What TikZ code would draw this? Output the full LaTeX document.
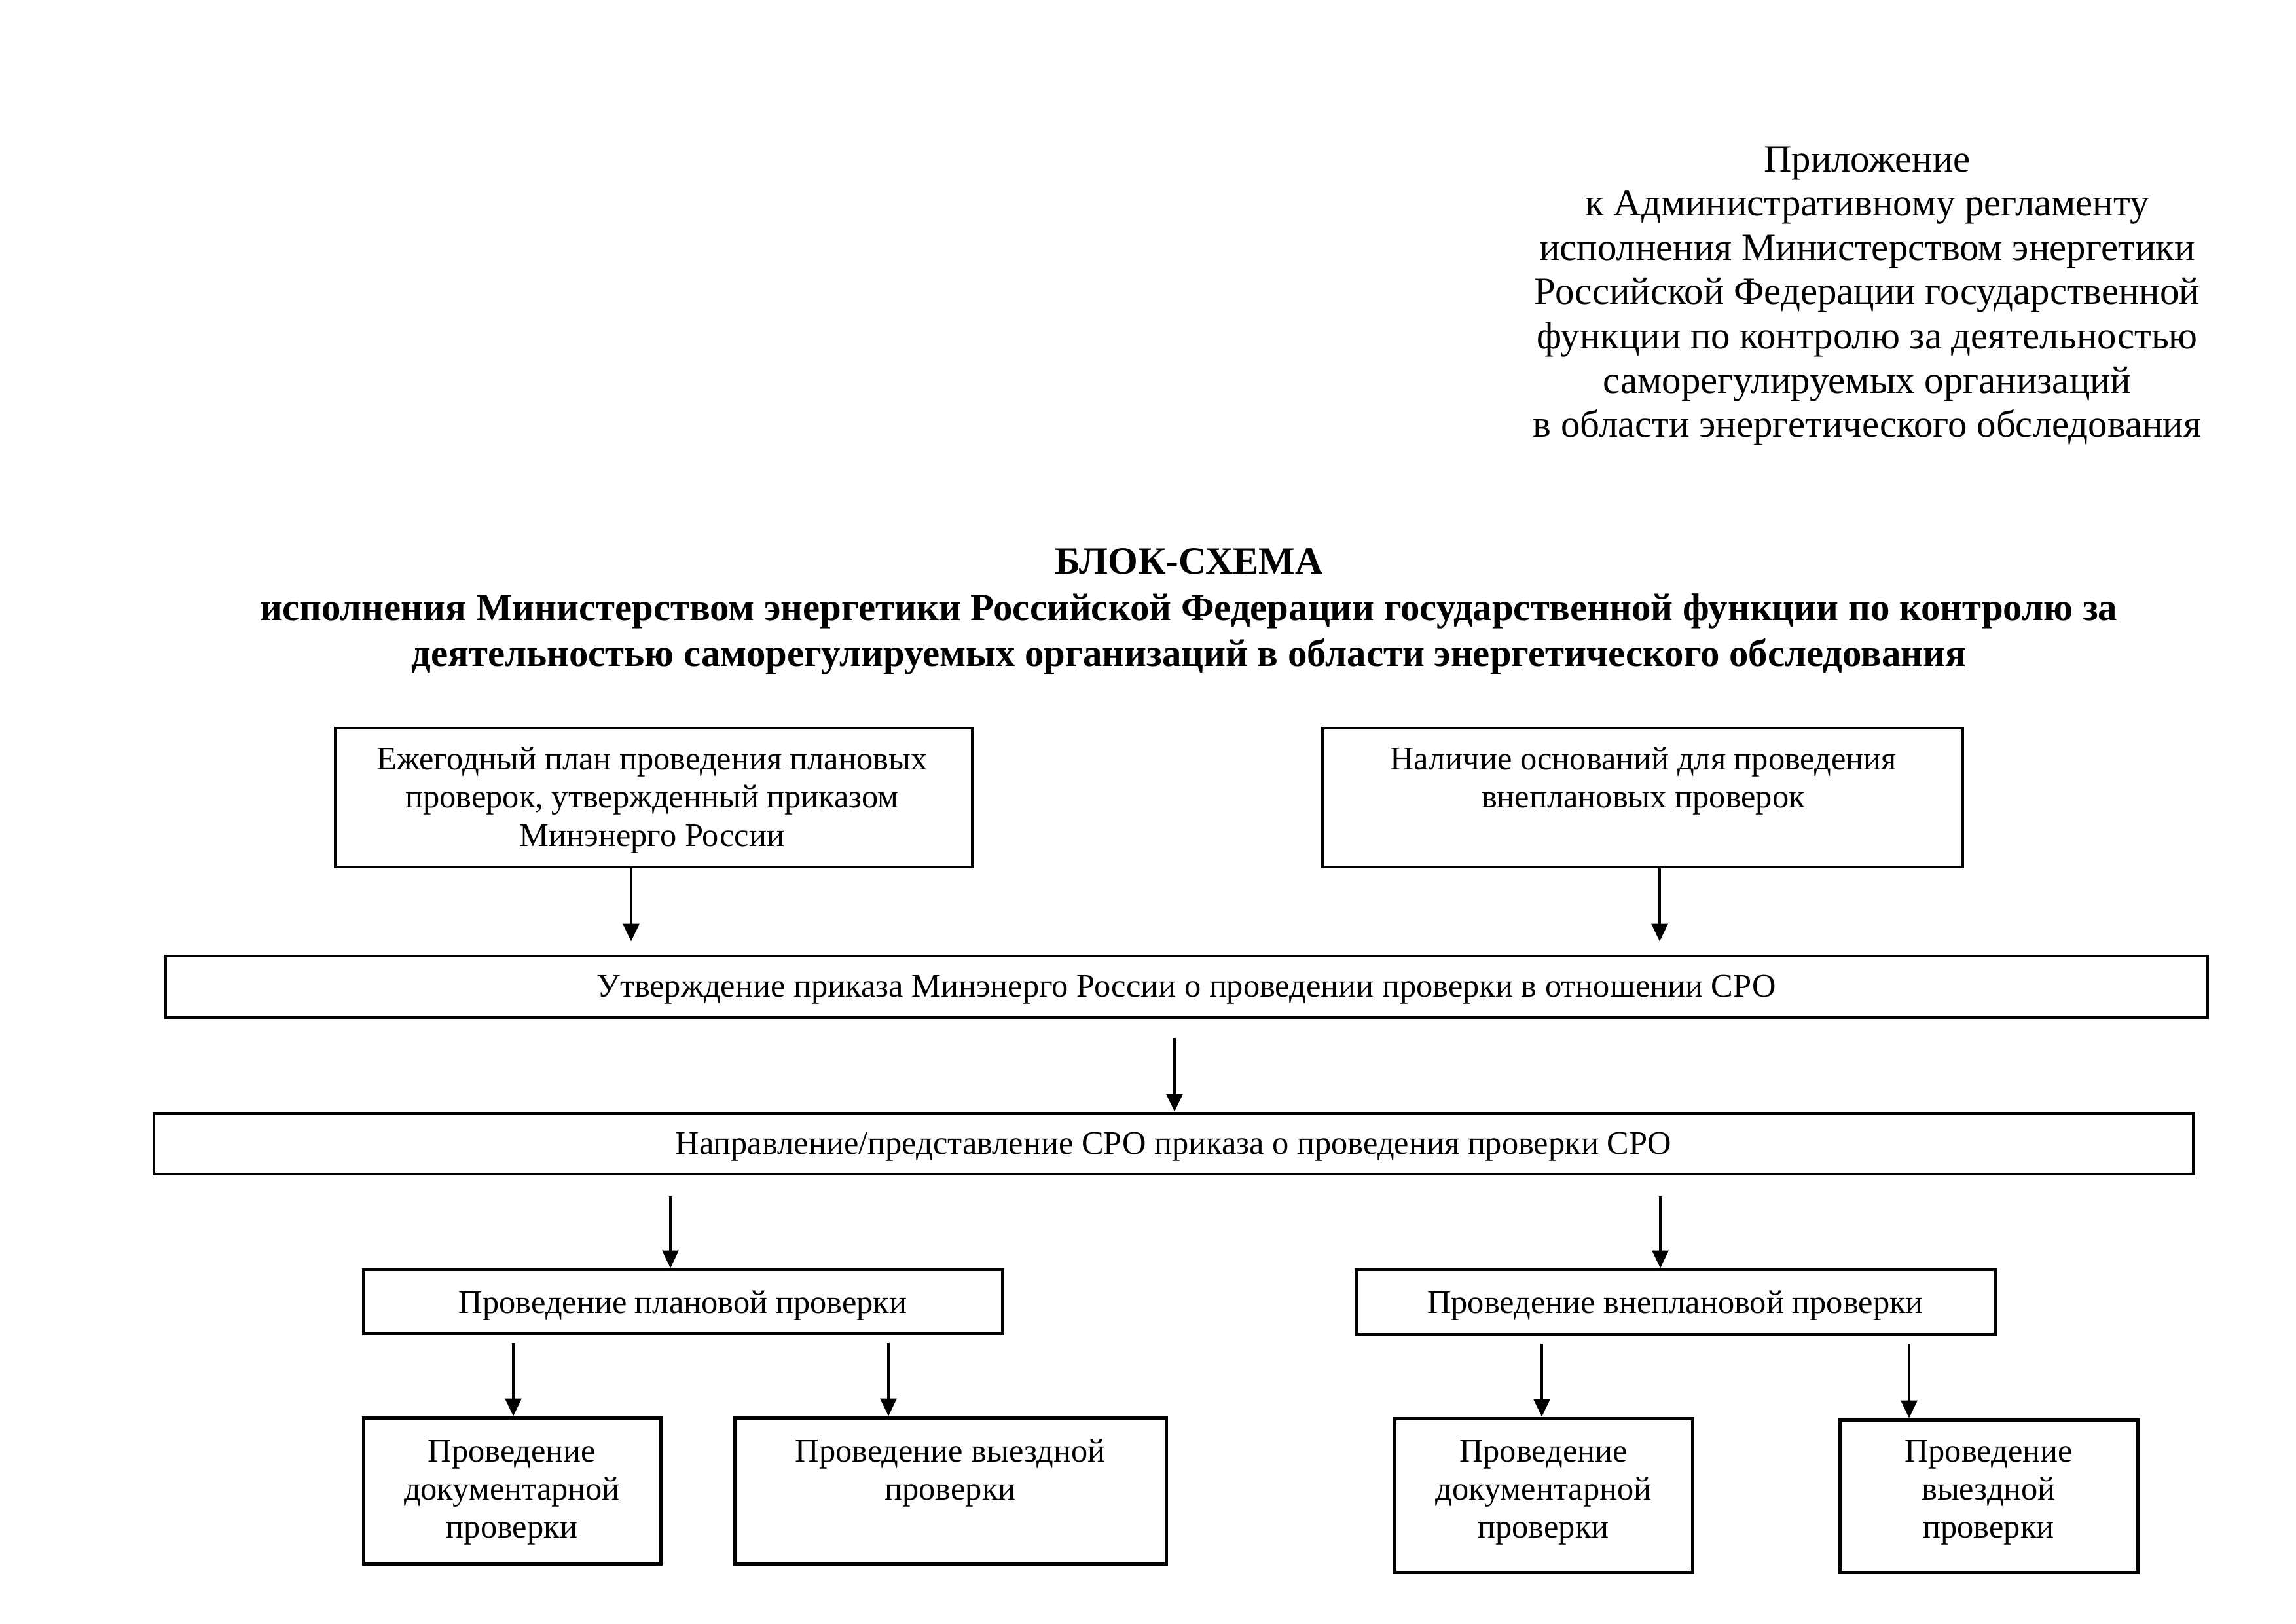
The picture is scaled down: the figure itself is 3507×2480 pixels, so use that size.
\documentclass[tikz,border=0pt]{standalone}
\usepackage{fontspec}
\setmainfont{Liberation Serif}
\usetikzlibrary{arrows.meta}
\begin{document}
\begin{tikzpicture}[x=0.2409pt,y=-0.2409pt,
  box/.style={draw,line width=1.2pt,inner sep=0pt},
  txt/.style={align=center,inner sep=0pt,font=\fontsize{12.15}{14}\selectfont},
  sz/.style 2 args={minimum width=#1*0.2409pt,minimum height=#2*0.2409pt},
  arr/.style={line width=0.8pt,-{Triangle[length=6.5pt,width=6pt]}},
  hdr/.style={align=center,inner sep=0pt,font=\fontsize{14.17}{16.3}\selectfont},
  ttl/.style={align=center,inner sep=0pt,font=\bfseries\fontsize{14.17}{16.9}\selectfont}]
\useasboundingbox (0,0) rectangle (3507,2480);

\node[hdr] (header) at (2852,452) {Приложение\\к Административному регламенту\\исполнения Министерством энергетики\\Российской Федерации государственной\\функции по контролю за деятельностью\\саморегулируемых организаций\\в области энергетического обследования};

\node[ttl] (title) at (1816,934) {БЛОК-СХЕМА\\исполнения Министерством энергетики Российской Федерации государственной функции по контролю за\\деятельностью саморегулируемых организаций в области энергетического обследования};

% boxes
\node[box,sz={973}{212}] (b1) at (998.5,1218) {};
\node[box,sz={977}{212}] (b2) at (2508.5,1218) {};
\node[box,sz={3118}{94}] (b3) at (1812,1507) {};
\node[box,sz={3115}{93}] (b4) at (1792.5,1746.5) {};
\node[box,sz={976}{97}] (b5) at (1043,1987.5) {};
\node[box,sz={976}{98}] (b6) at (2559,1988) {};
\node[box,sz={454}{223}] (b7) at (782,2276.5) {};
\node[box,sz={659}{223}] (b8) at (1451.5,2276.5) {};
\node[box,sz={455}{235}] (b9) at (2357.5,2283.5) {};
\node[box,sz={455}{233}] (b10) at (3037.5,2284.5) {};

% texts
\node[txt] (t1) at (996,1222) {Ежегодный план проведения плановых\\проверок, утвержденный приказом\\Минэнерго России};
\node[txt] (t2) at (2510,1193) {Наличие оснований для проведения\\внеплановых проверок};
\node[txt] (t3) at (1812,1511.5) {Утверждение приказа Минэнерго России о проведении проверки в отношении СРО};
\node[txt] (t4) at (1792.5,1751) {Направление/представление СРО приказа о проведения проверки СРО};
\node[txt] (t5) at (1043,1993.5) {Проведение плановой проверки};
\node[txt] (t6) at (2559,1994) {Проведение внеплановой проверки};
\node[txt] (t7) at (782,2279) {Проведение\\документарной\\проверки};
\node[txt] (t8) at (1451.5,2250) {Проведение выездной\\проверки};
\node[txt] (t9) at (2357.5,2279) {Проведение\\документарной\\проверки};
\node[txt] (t10) at (3037.5,2279) {Проведение\\выездной\\проверки};

% arrow columns
\coordinate (c1) at (964,0);
\coordinate (c2) at (2535,0);
\coordinate (c3) at (1794,0);
\coordinate (c4) at (1024,0);
\coordinate (c5) at (2536,0);
\coordinate (c6) at (784,0);
\coordinate (c7) at (1357,0);
\coordinate (c8) at (2355,0);
\coordinate (c9) at (2916,0);

\draw[arr,shorten >=4.8pt] (b1.south -| c1) -- (b3.north -| c1);
\draw[arr,shorten >=4.8pt] (b2.south -| c2) -- (b3.north -| c2);
\draw[arr,shorten <=6.8pt] (b3.south -| c3) -- (b4.north -| c3);
\draw[arr,shorten <=7.5pt] (b4.south -| c4) -- (b5.north -| c4);
\draw[arr,shorten <=7.5pt] (b4.south -| c5) -- (b6.north -| c5);
\draw[arr,shorten <=3.1pt] (b5.south -| c6) -- (b7.north -| c6);
\draw[arr,shorten <=3.1pt] (b5.south -| c7) -- (b8.north -| c7);
\draw[arr,shorten <=3.1pt] (b6.south -| c8) -- (b9.north -| c8);
\draw[arr,shorten <=3.1pt] (b6.south -| c9) -- (b10.north -| c9);
\end{tikzpicture}
\end{document}
